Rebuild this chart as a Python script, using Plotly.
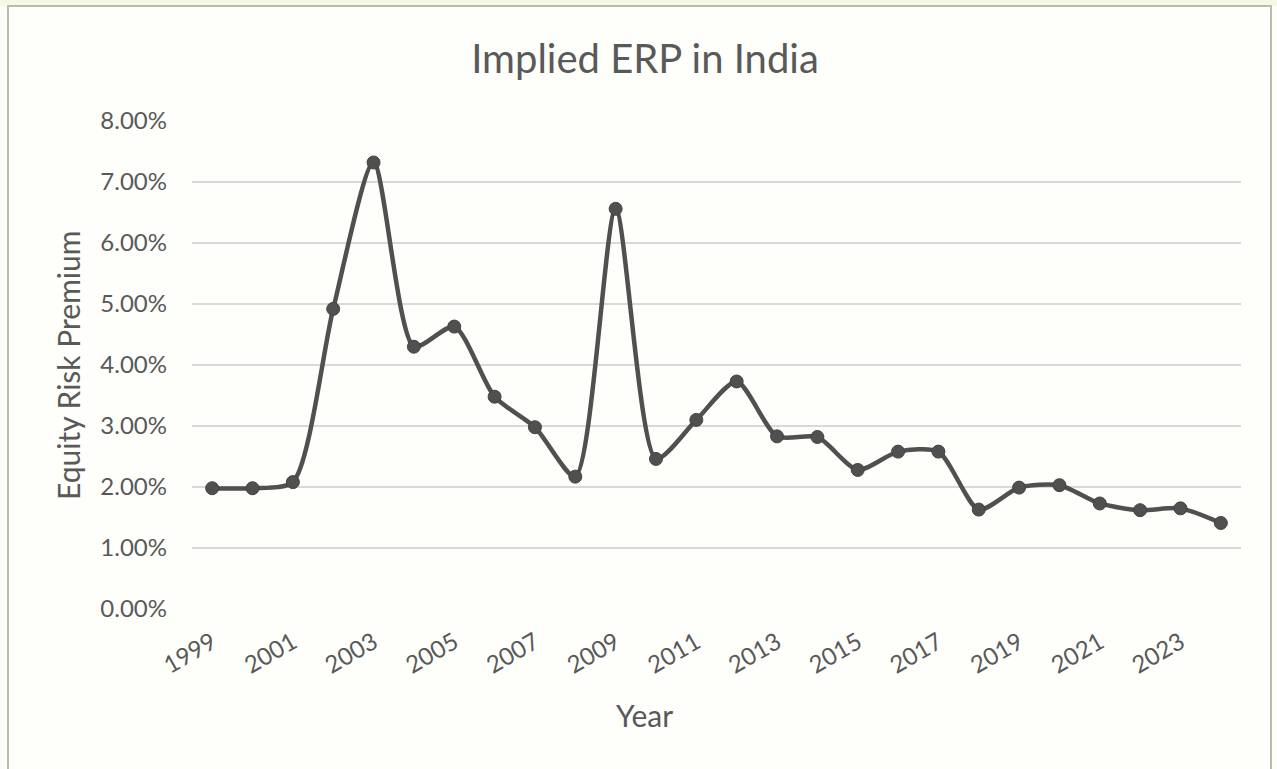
import plotly.graph_objects as go

# Implied equity risk premium for India, by year
years = list(range(1999, 2025))
erp = [0.0198, 0.0198, 0.0208, 0.0492, 0.0732, 0.0430, 0.0463, 0.0348, 0.0298, 0.0217,
       0.0656, 0.0246, 0.0310, 0.0373, 0.0283, 0.0282, 0.0228, 0.0258, 0.0258, 0.0163,
       0.0199, 0.0203, 0.0173, 0.0162, 0.0165, 0.0141]

y_ticks = [0.00, 0.01, 0.02, 0.03, 0.04, 0.05, 0.06, 0.07, 0.08]
y_tick_text = [f"{v * 100:.2f}%" for v in y_ticks]

chart_title = "Implied ERP in India"
x_title = "Year"
y_title = "Equity Risk Premium"

W, H = 1277, 769
L, R, T, B = 192, 36, 121, 160
FONT = "Lato, Carlito, Calibri, sans-serif"
TEXT = "#595959"
LINE = "#505050"

fig = go.Figure()
fig.add_trace(go.Scatter(
    x=years, y=erp, mode="lines+markers",
    line=dict(color=LINE, width=4.5, shape="spline", smoothing=0.7),
    marker=dict(size=13, color=LINE, line=dict(color="#444444", width=1)),
    showlegend=False,
))

pw = W - L - R
ph = H - T - B


def px_x(p):
    return (p - L) / pw


def px_y(p):
    return (H - B - p) / ph


fig.update_layout(
    width=W, height=H,
    margin=dict(l=L, r=R, t=T, b=B),
    paper_bgcolor="#fdfdf9",
    plot_bgcolor="rgba(0,0,0,0)",
    font=dict(family=FONT, color=TEXT),
    title=dict(text=chart_title, font=dict(size=40, color=TEXT, family=FONT),
               xref="container", x=645 / W, xanchor="center",
               yref="container", y=1 - 59 / H, yanchor="middle"),
    xaxis=dict(range=[1998.5, 2024.5], tickmode="linear", tick0=1999, dtick=2,
               tickangle=-30, tickfont=dict(size=24, color=TEXT),
               showgrid=False, zeroline=False, showline=False, ticks="",
               ticklabelstandoff=14),
    yaxis=dict(range=[0, 0.08], tickvals=y_ticks, ticktext=y_tick_text,
               tickfont=dict(size=24, color=TEXT),
               showgrid=True, gridcolor="#d9d9d9", gridwidth=1.6,
               zeroline=False, showline=False, ticks="",
               ticklabelstandoff=24),
    annotations=[
        dict(text=y_title, textangle=-90, xref="paper", yref="paper",
             x=px_x(68), y=px_y(366), xanchor="center", yanchor="middle",
             showarrow=False, font=dict(size=30, color=TEXT, family=FONT)),
        dict(text=x_title, xref="paper", yref="paper",
             x=px_x(644), y=px_y(715), xanchor="center", yanchor="middle",
             showarrow=False, font=dict(size=30, color=TEXT, family=FONT)),
    ],
    shapes=[
        # cream band above the chart frame
        dict(type="rect", xref="paper", yref="paper", layer="below",
             x0=px_x(-5), x1=px_x(W + 5), y0=px_y(6), y1=px_y(-5),
             fillcolor="#f7f7e8", line=dict(width=0)),
        # chart frame
        dict(type="rect", xref="paper", yref="paper", layer="below",
             x0=px_x(8), x1=px_x(1271), y0=px_y(H + 10), y1=px_y(6),
             fillcolor="#fefefb", line=dict(color="#b9bca9", width=2)),
    ],
)

fig.write_html("out.html")
